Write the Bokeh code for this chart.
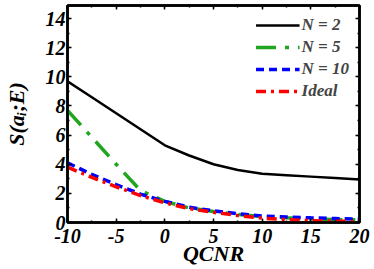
from bokeh.plotting import figure
from bokeh.models import (Range1d, LinearAxis, Legend, LegendItem,
                          SingleIntervalTicker, CustomJSTickFormatter)
from bokeh.embed import file_html
from bokeh.resources import INLINE

qcnr = [-10, -7.5, -5, -2.5, 0, 2.5, 5, 7.5, 10, 12.5, 15, 17.5, 20]
s_n2 = [9.7, 8.6, 7.5, 6.4, 5.3, 4.6, 4.0, 3.6, 3.35, 3.25, 3.15, 3.05, 2.95]
s_n5 = [7.7, 5.85, 4.0, 2.2, 1.45, 1.0, 0.75, 0.55, 0.4, 0.32, 0.25, 0.2, 0.18]
s_n10 = [4.1, 3.3, 2.6, 1.95, 1.45, 1.05, 0.8, 0.6, 0.45, 0.38, 0.32, 0.27, 0.22]
s_ideal = [3.8, 3.1, 2.45, 1.85, 1.35, 0.95, 0.7, 0.48, 0.3, 0.2, 0.13, 0.09, 0.07]
labels = ["N = 2", "N = 5", "N = 10", "Ideal"]
x_ticks = [-10, -5, 0, 5, 10, 15, 20]

FONT = "Liberation Serif"

p = figure(frame_width=292, frame_height=217, output_backend="svg", toolbar_location=None,
           x_range=Range1d(-10, 20), y_range=Range1d(0, 14.9),
           min_border_left=67, min_border_right=13, min_border_top=5,
           min_border_bottom=0)
p.grid.visible = False
p.outline_line_color = "black"
p.outline_line_width = 2.5
p.background_fill_color = "white"

r1 = p.line(qcnr, s_n2, line_color="black", line_width=2.5)
r2 = p.line(qcnr, s_n5, line_color="#1fa51f", line_width=3.5, line_dash="20 9 4 9")
r3 = p.line(qcnr, s_n10, line_color="#0000ff", line_width=3.5, line_dash="8 5")
r4 = p.line(qcnr, s_ideal, line_color="#ff0000", line_width=3.5, line_dash="10 5 3 5")

def style_axis(ax):
    ax.axis_line_width = 2.5
    ax.axis_line_color = "black"
    ax.major_tick_in = 4
    ax.major_tick_out = 0
    ax.minor_tick_in = 2
    ax.minor_tick_out = 0
    ax.major_tick_line_width = 1.5
    ax.minor_tick_line_width = 1.5
    ax.major_label_text_font = FONT
    ax.major_label_text_font_style = "bold italic"
    ax.major_label_text_font_size = "20px"
    ax.major_label_text_color = "black"
    ax.axis_label_text_font = FONT
    ax.axis_label_text_font_style = "bold italic"
    ax.axis_label_text_font_size = "22px"
    ax.axis_label_text_color = "black"

p.xaxis.ticker = SingleIntervalTicker(interval=5, num_minor_ticks=2)
p.yaxis.ticker = SingleIntervalTicker(interval=2, num_minor_ticks=2)
style_axis(p.xaxis[0])
style_axis(p.yaxis[0])
p.xaxis.major_label_overrides = {t: str(t) for t in x_ticks}
p.xaxis.axis_label = "QCNR"
p.yaxis.axis_label = "S(aᵢ;E)"
p.xaxis.major_label_standoff = 6
p.xaxis.axis_label_standoff = -5
p.yaxis.major_label_standoff = 2
p.yaxis.axis_label_standoff = 14

blank = CustomJSTickFormatter(code="return ''")
top = LinearAxis(ticker=SingleIntervalTicker(interval=5, num_minor_ticks=2), formatter=blank)
style_axis(top)
top.major_label_standoff = 0
right = LinearAxis(ticker=SingleIntervalTicker(interval=2, num_minor_ticks=2), formatter=blank)
style_axis(right)
right.major_label_standoff = 0
p.add_layout(top, "above")
p.add_layout(right, "right")

legend = Legend(items=[LegendItem(label=labels[0], renderers=[r1]),
                       LegendItem(label=labels[1], renderers=[r2]),
                       LegendItem(label=labels[2], renderers=[r3]),
                       LegendItem(label=labels[3], renderers=[r4])],
                location="top_right")
legend.border_line_color = None
legend.background_fill_alpha = 0
legend.label_text_font = FONT
legend.label_text_font_style = "bold italic"
legend.label_text_font_size = "17px"
legend.glyph_width = 44
legend.glyph_height = 16
legend.label_standoff = 2
legend.label_height = 16
legend.spacing = 2
legend.margin = 10
legend.padding = 2
p.add_layout(legend)

open("out.html", "w").write(file_html(p, INLINE))
